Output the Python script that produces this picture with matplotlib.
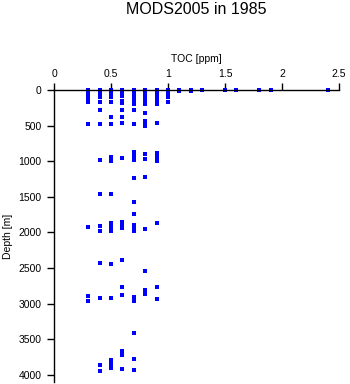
import matplotlib
matplotlib.use("Agg")
import matplotlib.pyplot as plt

plt.rcParams['font.family'] = ['Liberation Sans', 'DejaVu Sans']

# TOC values (ppm) and depths (m) per TOC column
toc_03 = [0, 15, 30, 50, 75, 100, 130, 175, 480, 1930, 2887, 2958]
toc_04 = [0, 20, 40, 75, 100, 175, 280, 480, 976, 1455, 1910, 1975, 2427, 2920, 3860, 3940]
toc_05 = [0, 15, 30, 50, 75, 100, 175, 385, 480, 940, 990, 1455, 1863, 1930, 1980, 2437, 2920, 3793, 3845, 3897]
toc_06 = [0, 15, 30, 50, 90, 160, 180, 280, 385, 470, 953, 1855, 1880, 1934, 2385, 2765, 2883, 3662, 3723, 3915]
toc_07 = [0, 10, 20, 30, 50, 75, 100, 125, 150, 175, 200, 280, 480, 870, 920, 976, 1240, 1568, 1737,
          1900, 1934, 1980, 2905, 2967, 3413, 3779, 3934]
toc_08 = [0, 20, 40, 75, 100, 125, 150, 200, 325, 430, 470, 500, 905, 965, 1215, 1958, 2535, 2805, 2860]
toc_09 = [0, 20, 50, 85, 125, 160, 200, 470, 878, 934, 990, 1863, 2765, 2934]
toc_10 = [0, 20, 40, 75, 100, 175]
toc_11 = [0, 10]
toc_12 = [0, 10]
surface_toc = [1.3, 1.5, 1.6, 1.8, 1.9, 2.4]
surface_depth = [0, 0, 0, 0, 5, 0]

columns = [(0.3, toc_03), (0.4, toc_04), (0.5, toc_05), (0.6, toc_06), (0.7, toc_07),
           (0.8, toc_08), (0.9, toc_09), (1.0, toc_10), (1.1, toc_11), (1.2, toc_12)]

xs, ys = [], []
for v, depths in columns:
    xs += [v] * len(depths)
    ys += depths
xs += surface_toc
ys += surface_depth

fig = plt.figure(figsize=(3.5, 3.84), dpi=100)
ax = fig.add_axes([54/350, 1 - 382/384, (339 - 54)/350, (382 - 90)/384])
ax.plot(xs, ys, linestyle='none', marker='s', markersize=2.2, color='#0000ff',
        markeredgewidth=0, clip_on=False)

ax.set_xlim(0, 2.5)
ax.set_ylim(4100, 0)
ax.set_xticks([0, 0.5, 1, 1.5, 2, 2.5])
ax.set_xticklabels(['0', '0.5', '1', '1.5', '2', '2.5'])
ax.set_yticks([0, 500, 1000, 1500, 2000, 2500, 3000, 3500, 4000])
ax.xaxis.tick_top()
ax.xaxis.set_label_position('top')
ax.tick_params(axis='both', direction='out', length=5, width=1, labelsize=7.5)
ax.tick_params(axis='x', pad=3)
ax.tick_params(axis='y', pad=4)
for s in ['right', 'bottom']:
    ax.spines[s].set_visible(False)
for s in ['left', 'top']:
    ax.spines[s].set_linewidth(1)
ax.set_xlabel('TOC [ppm]', fontsize=7.5, labelpad=5)
ax.set_ylabel('Depth [m]', fontsize=7.5, labelpad=4)
fig.text(196/350, 1 - 9/384, 'MODS2005 in 1985', ha='center', va='center', fontsize=11.5)

fig.savefig('out.png', dpi=100)
